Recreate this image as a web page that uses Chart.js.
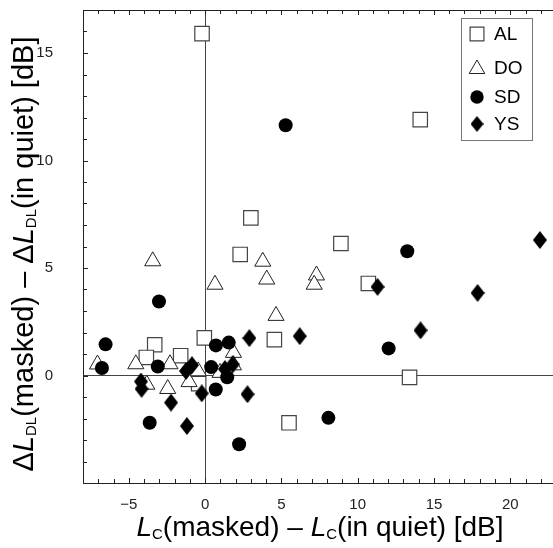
<!DOCTYPE html>
<html>
<head>
<meta charset="utf-8">
<script src="https://cdn.jsdelivr.net/npm/chart.js@4/dist/chart.umd.min.js"></script>
<style>
  html, body { margin: 0; padding: 0; background: #fff; }
  canvas { display: block; }
</style>
</head>
<body>
<canvas id="scatter" width="553" height="548"></canvas>
<script>
// ---- data ----
const seriesNames = ["AL", "DO", "SD", "YS"];

const alX = [-0.2, 3.0, 14.1, 2.3, 8.9, 10.7, 13.4, -3.3, -3.85, -1.6, -0.05, -0.42, 4.54, 5.5];
const alY = [15.9, 7.33, 11.9, 5.63, 6.14, 4.28, -0.09, 1.43, 0.84, 0.92, 1.75, -0.38, 1.67, -2.2];

const doX = [-3.43, 0.65, 3.78, 4.04, 4.65, 7.3, 7.15, -7.05, -4.54, -3.82, -2.3, -2.45, -1.05, -0.45, 0.98, 1.86, 1.86];
const doY = [5.32, 4.23, 5.3, 4.47, 2.78, 4.66, 4.23, 0.52, 0.53, -0.42, 0.53, -0.62, -0.3, 0.2, 0.13, 1.06, 0.48];

const sdX = [5.28, 13.25, 12.03, 8.08, -3.02, -6.52, -6.76, -3.1, -3.63, 0.4, 0.71, 1.55, 0.7, 1.45, 2.23];
const sdY = [11.64, 5.78, 1.26, -1.97, 3.44, 1.45, 0.35, 0.42, -2.2, 0.39, 1.4, 1.53, -0.65, -0.08, -3.2];

const ysX = [21.94, 11.3, 17.86, 14.12, 6.2, 2.9, 2.78, -0.22, 1.81, 1.3, -4.2, -4.16, -2.23, -1.19, -0.86, -1.25];
const ysY = [6.3, 4.12, 3.84, 2.1, 1.83, 1.74, -0.87, -0.83, 0.52, 0.3, -0.28, -0.62, -1.26, -2.35, 0.48, 0.21];

const xMin = -8, xMax = 22.8;
const yMin = -5, yMax = 17;
const xLabels = [-5, 0, 5, 10, 15, 20];
const yLabels = [0, 5, 10, 15];

const FONT = "'Liberation Sans', Arial, Helvetica, sans-serif";

function pts(xs, ys) {
    return xs.map((x, i) => ({ x: x, y: ys[i] }));
}

// filled diamond (taller than wide), used as point image
function makeDiamond(w, h) {
    const c = document.createElement("canvas");
    c.width = w;
    c.height = h;
    const g = c.getContext("2d");
    g.fillStyle = "#000";
    g.beginPath();
    g.moveTo(w / 2, 0);
    g.lineTo(w, h / 2);
    g.lineTo(w / 2, h);
    g.lineTo(0, h / 2);
    g.closePath();
    g.fill();
    return c;
}
const diamondBig = makeDiamond(14, 18);
const diamondSmall = makeDiamond(13, 16);

function minus(v) {
    return v < 0 ? "\u2212" + Math.abs(v) : String(v);
}

// no extra room for end labels, plot box fixed by the axes
function fixBox(s, size) {
    if (s.isHorizontal()) s.height = size; else s.width = size;
    s.paddingTop = 0;
    s.paddingBottom = 0;
    s.paddingLeft = 0;
    s.paddingRight = 0;
}

// ---- inward tick marks + top frame line ----
const frameTicks = {
    id: "frameTicks",
    afterDatasetsDraw(chart) {
        const ctx = chart.ctx;
        const a = chart.chartArea;
        const xs = chart.scales.x, ys = chart.scales.y;
        ctx.save();
        ctx.strokeStyle = "#222";
        ctx.lineWidth = 1;
        ctx.beginPath();
        ctx.moveTo(a.left, a.top + 0.5);
        ctx.lineTo(a.right, a.top + 0.5);
        for (let v = Math.ceil(xMin); v <= xMax; v++) {
            const px = Math.round(xs.getPixelForValue(v)) + 0.5;
            const len = v % 5 === 0 ? 5 : 4;
            ctx.moveTo(px, a.bottom);
            ctx.lineTo(px, a.bottom - len);
            ctx.moveTo(px, a.top);
            ctx.lineTo(px, a.top + len);
        }
        for (let v = Math.ceil(yMin); v <= yMax; v++) {
            const py = Math.round(ys.getPixelForValue(v)) + 0.5;
            const len = v % 5 === 0 ? 5 : 4;
            ctx.moveTo(a.left, py);
            ctx.lineTo(a.left + len, py);
        }
        ctx.stroke();
        ctx.restore();
    }
};

// ---- legend box in the upper right ----
const legendBox = {
    id: "legendBox",
    afterDraw(chart) {
        const ctx = chart.ctx;
        const H = Chart.helpers;
        ctx.save();
        ctx.fillStyle = "#fff";
        ctx.fillRect(461, 18, 71, 122);
        ctx.strokeStyle = "#777";
        ctx.lineWidth = 1;
        ctx.strokeRect(461.5, 18.5, 71, 122);

        const rows = [34, 68, 97, 124];
        const styles = [
            { pointStyle: "rect", radius: 9.8, borderWidth: 1.2, fill: "#fff", stroke: "#444" },
            { pointStyle: "triangle", radius: 9, borderWidth: 1, fill: "#fff", stroke: "#222" },
            { pointStyle: "circle", radius: 6.7, borderWidth: 0, fill: "#000", stroke: "#000" },
            { pointStyle: diamondSmall, radius: 7, borderWidth: 0, fill: "#000", stroke: "#000" }
        ];
        seriesNames.forEach((name, i) => {
            const s = styles[i];
            ctx.fillStyle = s.fill;
            ctx.strokeStyle = s.stroke;
            ctx.lineWidth = s.borderWidth;
            H.drawPoint(ctx, { pointStyle: s.pointStyle, radius: s.radius, borderWidth: s.borderWidth, rotation: 0 }, 477, rows[i] + (i === 1 ? 1 : 0));
            ctx.fillStyle = "#000";
            ctx.font = "19px " + FONT;
            ctx.textAlign = "left";
            ctx.textBaseline = "middle";
            ctx.fillText(name, 494, rows[i] + 1);
        });
        ctx.restore();
    }
};

// ---- axis titles with italic L and subscripts ----
function drawRich(ctx, parts, cx, baseline) {
    let total = 0;
    parts.forEach(p => {
        ctx.font = p.font;
        p.w = ctx.measureText(p.t).width;
        total += p.w;
    });
    let x = cx - total / 2;
    parts.forEach(p => {
        ctx.font = p.font;
        ctx.fillText(p.t, x, baseline + (p.dy || 0));
        x += p.w;
    });
}

const axisTitles = {
    id: "axisTitles",
    afterDraw(chart) {
        const ctx = chart.ctx;
        const big = "28px " + FONT;
        const ital = "italic 28px " + FONT;
        const sub = "15px " + FONT;
        ctx.save();
        ctx.fillStyle = "#000";
        ctx.textAlign = "left";
        ctx.textBaseline = "alphabetic";

        drawRich(ctx, [
            { t: "L", font: ital },
            { t: "C", font: sub, dy: 3 },
            { t: "(masked) \u2013 ", font: big },
            { t: "L", font: ital },
            { t: "C", font: sub, dy: 3 },
            { t: "(in quiet) [dB]", font: big }
        ], 320, 536);

        const bigY = "29px " + FONT;
        const italY = "italic 29px " + FONT;
        const subY = "15px " + FONT;
        ctx.translate(33, 254);
        ctx.rotate(-Math.PI / 2);
        drawRich(ctx, [
            { t: "\u0394", font: bigY },
            { t: "L", font: italY },
            { t: "DL", font: subY, dy: 3 },
            { t: "(masked) \u2013 \u0394", font: bigY },
            { t: "L", font: italY },
            { t: "DL", font: subY, dy: 3 },
            { t: "(in quiet) [dB]", font: bigY }
        ], 0, 0);
        ctx.restore();
    }
};

const zeroLine = (c) => (c.tick && c.tick.value === 0 ? "#444" : "rgba(0,0,0,0)");

new Chart(document.getElementById("scatter"), {
    type: "scatter",
    data: {
        datasets: [
            {
                label: "AL",
                data: pts(alX, alY),
                pointStyle: "rect",
                pointRadius: 10.2,
                backgroundColor: "#fff",
                borderColor: "#444",
                borderWidth: 1.2,
                order: 3
            },
            {
                label: "DO",
                data: pts(doX, doY),
                pointStyle: "triangle",
                pointRadius: 9.3,
                backgroundColor: "#fff",
                borderColor: "#222",
                borderWidth: 1,
                order: 2
            },
            {
                label: "SD",
                data: pts(sdX, sdY),
                pointStyle: "circle",
                pointRadius: 7,
                backgroundColor: "#000",
                borderColor: "#000",
                borderWidth: 0,
                order: 1
            },
            {
                label: "YS",
                data: pts(ysX, ysY),
                pointStyle: diamondBig,
                pointRadius: 9,
                backgroundColor: "#000",
                borderWidth: 0,
                order: 0
            }
        ]
    },
    options: {
        responsive: false,
        animation: false,
        events: [],
        layout: { autoPadding: false, padding: { top: 10, right: 0, left: 0, bottom: 0 } },
        plugins: {
            legend: { display: false },
            tooltip: { enabled: false }
        },
        scales: {
            x: {
                type: "linear",
                min: xMin,
                max: xMax,
                afterFit: (s) => fixBox(s, 65),
                border: { display: true, color: "#222", width: 1 },
                grid: { color: zeroLine, lineWidth: 1, drawTicks: true, tickLength: 13, tickColor: "rgba(0,0,0,0)" },
                ticks: {
                    stepSize: 1,
                    padding: 0,
                    autoSkip: false,
                    maxRotation: 0,
                    color: "#222",
                    font: { family: FONT, size: 15 },
                    callback: (v) => (xLabels.includes(v) ? minus(v) : "")
                }
            },
            y: {
                type: "linear",
                min: yMin,
                max: yMax,
                afterFit: (s) => fixBox(s, 83),
                border: { display: true, color: "#222", width: 1 },
                grid: { color: zeroLine, lineWidth: 1, drawTicks: true, tickLength: 30, tickColor: "rgba(0,0,0,0)" },
                ticks: {
                    stepSize: 1,
                    padding: 0,
                    autoSkip: false,
                    color: "#222",
                    font: { family: FONT, size: 15 },
                    callback: (v) => (yLabels.includes(v) ? minus(v) : "")
                }
            }
        }
    },
    plugins: [frameTicks, legendBox, axisTitles]
});
</script>
</body>
</html>
